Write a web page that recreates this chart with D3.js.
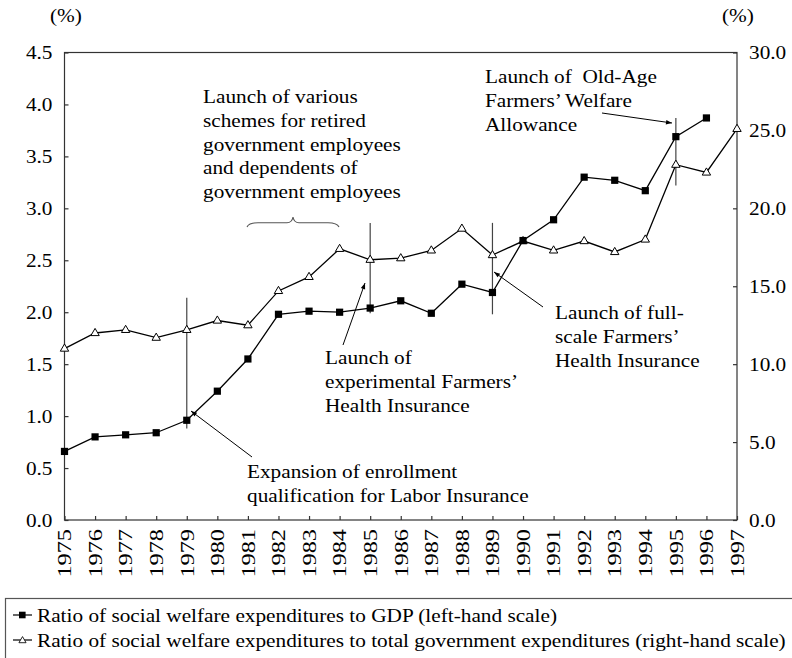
<!DOCTYPE html>
<html>
<head>
<meta charset="utf-8">
<script src="https://cdn.jsdelivr.net/npm/d3@7"></script>
<style>
  body { margin: 0; background: #fff; }
  svg text { font-family: "Liberation Serif", "Times New Roman", serif; font-size: 19px; fill: #000; }
</style>
</head>
<body>
<svg width="792" height="658"></svg>
<script>
const years = d3.range(1975, 1998);
// ratio to GDP (left scale), 1975-1996
const gdpRatio = [0.66, 0.80, 0.82, 0.84, 0.96, 1.24, 1.55, 1.98, 2.01, 2.00, 2.04, 2.11,
  1.99, 2.27, 2.19, 2.69, 2.89, 3.30, 3.27, 3.17, 3.69, 3.87];
// ratio to total government expenditures (right scale), 1975-1997
const govRatio = [11.0, 12.0, 12.2, 11.7, 12.2, 12.8, 12.5, 14.7, 15.6, 17.4, 16.7, 16.8,
  17.3, 18.7, 17.0, 17.9, 17.3, 17.9, 17.2, 18.0, 22.8, 22.3, 25.1];
const leftTicks = d3.range(0, 4.51, 0.5);
const rightTicks = d3.range(0, 30.1, 5);
const legendLabels = [
  "Ratio of social welfare expenditures to GDP (left-hand scale)",
  "Ratio of social welfare expenditures to total government expenditures (right-hand scale)"
];

const svg = d3.select("svg"),
  pl = 64.5, pr = 737, pt = 52.5, pb = 520,
  sx = 1.12; // text in the original is a bit wide

const x = d3.scalePoint().domain(years).range([pl, pr]),
  yL = d3.scaleLinear().domain([0, 4.5]).range([pb, pt]),
  yR = d3.scaleLinear().domain([0, 30]).range([pb, pt]);

function label(g, px, py, lines, step) {
  const t = g.append("text").attr("transform", `translate(${px},${py}) scale(${sx},1)`);
  lines.forEach((s, i) => t.append("tspan").attr("x", 0).attr("y", i * step).text(s));
  return t;
}

// frame
svg.append("rect")
  .attr("x", pl).attr("y", pt)
  .attr("width", pr - pl).attr("height", pb - pt)
  .attr("fill", "none").attr("stroke", "#333").attr("stroke-width", 1.2);

// axes
const gl = svg.append("g").attr("transform", `translate(${pl},0)`)
  .call(d3.axisLeft(yL).tickValues(leftTicks).tickFormat(d3.format(".1f"))
    .tickSizeInner(-4).tickSizeOuter(0).tickPadding(12));
const gr = svg.append("g").attr("transform", `translate(${pr},0)`)
  .call(d3.axisRight(yR).tickValues(rightTicks).tickFormat(d3.format(".1f"))
    .tickSizeInner(-4).tickSizeOuter(0).tickPadding(12));
const gb = svg.append("g").attr("transform", `translate(0,${pb})`)
  .call(d3.axisBottom(x).tickSizeInner(-4).tickSizeOuter(0));

[gl, gr, gb].forEach(g => {
  g.attr("font-size", null).attr("font-family", null);
  g.select(".domain").remove();
  g.selectAll(".tick line").attr("stroke", "#333").attr("stroke-width", 1.2);
});
gl.selectAll("text").attr("transform", `scale(${sx},1)`).attr("x", -12 / sx);
gr.selectAll("text").attr("transform", `scale(${sx},1)`).attr("x", 12 / sx);
gb.selectAll("text")
  .attr("x", -9 / 1.28).attr("y", 0).attr("dy", "0.33em")
  .attr("text-anchor", "end")
  .attr("transform", "rotate(-90) scale(1.28,1)");

label(svg, 50, 22, ["(%)"], 0);
label(svg, 722, 22, ["(%)"], 0);

// annotation vertical lines (year, from, to in left-scale units)
const marks = [[1979, 0.88, 2.14], [1985, 1.99, 2.86], [1989, 1.98, 2.86], [1995, 3.22, 3.87]];
svg.selectAll(".vline").data(marks).enter().append("line")
  .attr("x1", d => x(d[0])).attr("x2", d => x(d[0]))
  .attr("y1", d => yL(d[1])).attr("y2", d => yL(d[2]))
  .attr("stroke", "#444").attr("stroke-width", 1.2);

// arrows
svg.append("defs").append("marker")
  .attr("id", "ah").attr("viewBox", "0 -4 8 8")
  .attr("refX", 8).attr("refY", 0)
  .attr("markerWidth", 7).attr("markerHeight", 6)
  .attr("markerUnits", "userSpaceOnUse").attr("orient", "auto")
  .append("path").attr("d", "M0,-3L8,0L0,3Z").attr("fill", "#000");

const arrows = [
  [252, 457, 191, 411],
  [343, 345, 365, 283],
  [543, 307, 494, 272],
  [602, 113, 672, 123]
];
svg.selectAll(".arrow").data(arrows).enter().append("line")
  .attr("x1", d => d[0]).attr("y1", d => d[1])
  .attr("x2", d => d[2]).attr("y2", d => d[3])
  .attr("stroke", "#000").attr("stroke-width", 1)
  .attr("marker-end", "url(#ah)");

// brace over 1981-1984
svg.append("path")
  .attr("d", "M247,227Q249,222.7 258,222.7L287,222.7Q292,222.7 293,217Q294,222.7 299,222.7L328,222.7Q337,222.7 339,227")
  .attr("fill", "none").attr("stroke", "#555").attr("stroke-width", 1.1);

// series
const lineL = d3.line().x((d, i) => x(years[i])).y(d => yL(d));
const lineR = d3.line().x((d, i) => x(years[i])).y(d => yR(d));

svg.append("path").datum(govRatio).attr("d", lineR)
  .attr("fill", "none").attr("stroke", "#000").attr("stroke-width", 1.3);
svg.append("path").datum(gdpRatio).attr("d", lineL)
  .attr("fill", "none").attr("stroke", "#000").attr("stroke-width", 1.3);

const tri = "M0,-4.6L4.2,2.6L-4.2,2.6Z";
svg.selectAll(".tri").data(govRatio).enter().append("path")
  .attr("d", tri)
  .attr("transform", (d, i) => `translate(${x(years[i])},${yR(d)})`)
  .attr("fill", "#fff").attr("stroke", "#000").attr("stroke-width", 1);
svg.selectAll(".sq").data(gdpRatio).enter().append("rect")
  .attr("x", (d, i) => x(years[i]) - 3.6).attr("y", d => yL(d) - 3.6)
  .attr("width", 7.2).attr("height", 7.2).attr("fill", "#000");

// annotation texts
label(svg, 203, 103, ["Launch of various", "schemes for retired", "government employees",
  "and dependents of", "government employees"], 23.8);
label(svg, 485, 83, ["Launch of\u00a0 Old-Age", "Farmers\u2019 Welfare", "Allowance"], 24);
label(svg, 555, 319, ["Launch of full-", "scale Farmers\u2019", "Health Insurance"], 24);
label(svg, 325, 364, ["Launch of", "experimental Farmers\u2019", "Health Insurance"], 24);
label(svg, 247, 478, ["Expansion of enrollment", "qualification for Labor Insurance"], 24);

// legend
svg.append("rect").attr("x", 5.5).attr("y", 598.5).attr("width", 820).attr("height", 100)
  .attr("fill", "none").attr("stroke", "#555").attr("stroke-width", 1.2);
const lg = svg.selectAll(".lg").data(legendLabels).enter().append("g")
  .attr("transform", (d, i) => `translate(0,${615 + i * 25})`);
lg.append("line").attr("x1", 13).attr("x2", 32).attr("stroke", "#000").attr("stroke-width", 1.2);
lg.filter((d, i) => i === 0).append("rect")
  .attr("x", 19).attr("y", -3.3).attr("width", 6.6).attr("height", 6.6).attr("fill", "#000");
lg.filter((d, i) => i === 1).append("path")
  .attr("d", tri).attr("transform", "translate(22.5,0.5) scale(0.85)")
  .attr("fill", "#fff").attr("stroke", "#000").attr("stroke-width", 1);
lg.each(function (d) { label(d3.select(this), 37, 6.5, [d], 0); });
</script>
</body>
</html>
